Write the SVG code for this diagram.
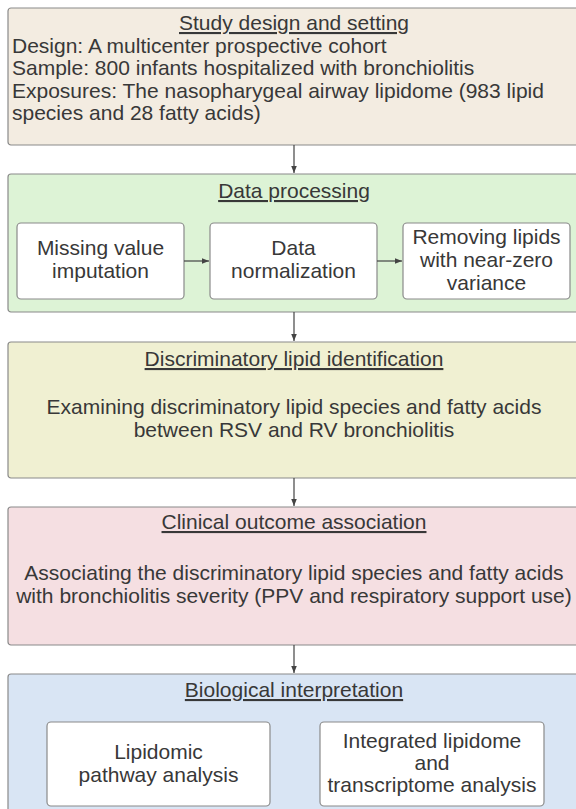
<svg xmlns="http://www.w3.org/2000/svg" width="576" height="809" viewBox="0 0 576 809">
<defs>
<marker id="ah" markerWidth="8" markerHeight="8" refX="7" refY="4" orient="auto" markerUnits="userSpaceOnUse">
<path d="M0,1.2 L7,4 L0,6.8 Z" fill="#444"/>
</marker>
<style>
.t{font-family:"Liberation Sans",Arial,sans-serif;font-size:21px;fill:#383838}
.c{text-anchor:middle}
.u{text-decoration:underline}
.ob{stroke:#8a8a8a;stroke-width:1.2}
.ib{fill:#fff;stroke:#8a8a8a;stroke-width:1.2}
.cn{stroke:#444;stroke-width:1.2;fill:none;marker-end:url(#ah)}
</style>
</defs>
<rect width="576" height="809" fill="#fff"/>
<g id="study">
<rect class="ob" x="8" y="8" width="576" height="137" rx="3" fill="#f3ece1"/>
<text class="t c u" x="294" y="30">Study design and setting</text>
<text class="t" x="12" y="53">Design: A multicenter prospective cohort</text>
<text class="t" x="12" y="75">Sample: 800 infants hospitalized with bronchiolitis</text>
<text class="t" x="12" y="98">Exposures: The nasopharygeal airway lipidome (983 lipid</text>
<text class="t" x="12" y="120">species and 28 fatty acids)</text>
</g>
<g id="processing">
<rect class="ob" x="8" y="174" width="576" height="138" rx="3" fill="#ddf3d6"/>
<text class="t c u" x="294" y="198">Data processing</text>
</g>
<g id="missing">
<rect class="ib" x="17" y="223" width="167" height="76" rx="4"/>
<text class="t c" x="100.5" y="255">Missing value</text>
<text class="t c" x="100.5" y="278">imputation</text>
</g>
<g id="normalization">
<rect class="ib" x="210" y="223" width="167" height="76" rx="4"/>
<text class="t c" x="293.5" y="255">Data</text>
<text class="t c" x="293.5" y="278">normalization</text>
</g>
<g id="removing">
<rect class="ib" x="403" y="223" width="167" height="76" rx="4"/>
<text class="t c" x="486.5" y="244">Removing lipids</text>
<text class="t c" x="486.5" y="267">with near-zero</text>
<text class="t c" x="486.5" y="290">variance</text>
</g>
<g id="discriminatory">
<rect class="ob" x="8" y="342" width="576" height="136" rx="3" fill="#f0f0d2"/>
<text class="t c u" x="294" y="366">Discriminatory lipid identification</text>
<text class="t c" x="294" y="414">Examining discriminatory lipid species and fatty acids</text>
<text class="t c" x="294" y="437">between RSV and RV bronchiolitis</text>
</g>
<g id="clinical">
<rect class="ob" x="8" y="507" width="576" height="138" rx="3" fill="#f5dfe2"/>
<text class="t c u" x="294" y="529">Clinical outcome association</text>
<text class="t c" x="294" y="580">Associating the discriminatory lipid species and fatty acids</text>
<text class="t c" x="294" y="603">with bronchiolitis severity (PPV and respiratory support use)</text>
</g>
<g id="biological">
<rect class="ob" x="8" y="674" width="576" height="145" rx="3" fill="#d9e5f4"/>
<text class="t c u" x="294" y="697">Biological interpretation</text>
</g>
<g id="pathway">
<rect class="ib" x="47" y="722" width="223" height="84" rx="4"/>
<text class="t c" x="158.5" y="759">Lipidomic</text>
<text class="t c" x="158.5" y="782">pathway analysis</text>
</g>
<g id="integrated">
<rect class="ib" x="320" y="722" width="224" height="84" rx="4"/>
<text class="t c" x="432" y="748">Integrated lipidome</text>
<text class="t c" x="432" y="770">and</text>
<text class="t c" x="432" y="792">transcriptome analysis</text>
</g>
<g id="connectors">
<line class="cn" x1="294" y1="145" x2="294" y2="173"/>
<line class="cn" x1="294" y1="312" x2="294" y2="341"/>
<line class="cn" x1="294" y1="478" x2="294" y2="506"/>
<line class="cn" x1="294" y1="645" x2="294" y2="673"/>
<line class="cn" x1="184" y1="261" x2="209" y2="261"/>
<line class="cn" x1="377" y1="261" x2="402" y2="261"/>
</g>
</svg>
